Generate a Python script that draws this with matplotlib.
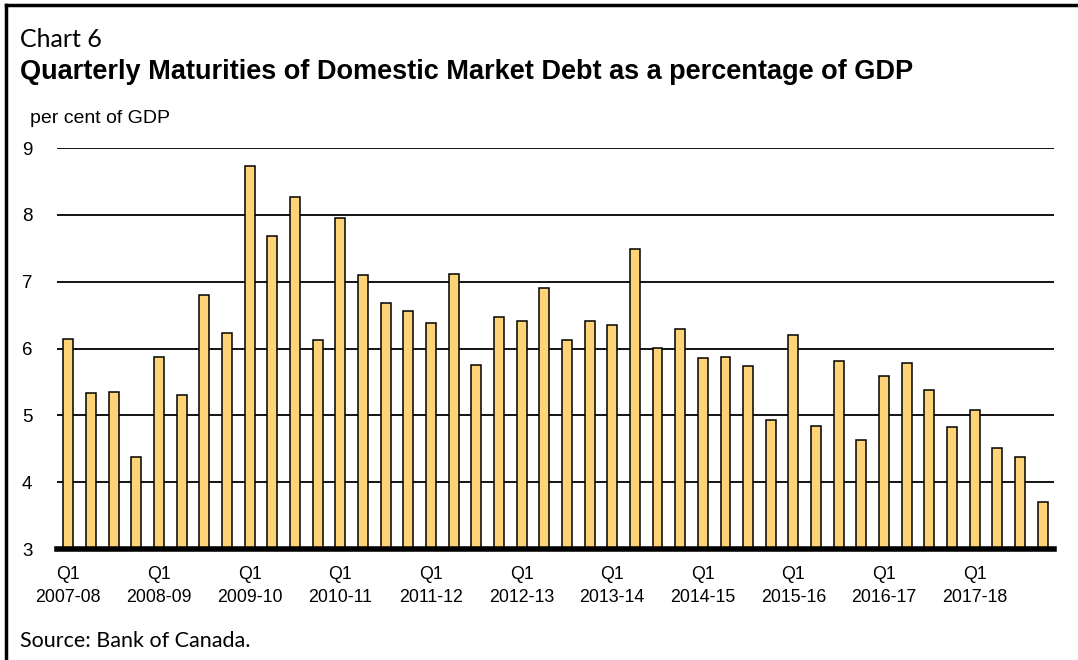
import matplotlib.pyplot as plt

# quarterly maturities, per cent of GDP, 2007-08 Q1 to 2017-18 Q4
fiscal_years = ['2007-08', '2008-09', '2009-10', '2010-11', '2011-12', '2012-13',
                '2013-14', '2014-15', '2015-16', '2016-17', '2017-18']
maturities = [6.15, 5.33, 5.35, 4.38, 5.88, 5.30, 6.81, 6.23,
              8.73, 7.69, 8.27, 6.13, 7.95, 7.10, 6.69, 6.57,
              6.38, 7.12, 5.76, 6.47, 6.42, 6.91, 6.13, 6.42,
              6.35, 7.49, 6.01, 6.30, 5.86, 5.88, 5.74, 4.93,
              6.20, 4.84, 5.82, 4.64, 5.59, 5.79, 5.38, 4.82,
              5.08, 4.52, 4.38, 3.70]

bar_color = '#FFD479'
light_font = ['Lato', 'DejaVu Sans']
plain_font = ['Liberation Sans', 'DejaVu Sans']

fig = plt.figure(figsize=(10.78, 6.6), dpi=100)
ax = fig.add_axes([0.0533, 0.168, 0.9245, 0.6075])

x = list(range(len(maturities)))
ax.bar(x, maturities, width=0.44, bottom=0, color=bar_color,
       edgecolor='black', linewidth=1.1, zorder=3)

ax.set_ylim(3, 9)
ax.set_xlim(-0.48, len(maturities) - 0.5)
ax.set_yticks(range(3, 10))
ax.set_yticklabels([str(v) for v in range(3, 10)], family=plain_font, fontsize=13.5)
ax.yaxis.grid(True, color='black', linewidth=1.3, zorder=1)
ax.tick_params(axis='y', length=0, pad=18)
for s in ['top', 'right', 'left']:
    ax.spines[s].set_visible(False)
ax.spines['bottom'].set_linewidth(4)
ax.spines['bottom'].set_zorder(4)

# Q1 labels at the start of each fiscal year
ax.set_xticks(x[::4])
ax.set_xticklabels(['Q1\n' + fy for fy in fiscal_years], family=plain_font,
                   fontsize=12.8, linespacing=1.45)
ax.tick_params(axis='x', length=0, pad=12)

fig.text(0.0186, 0.94, 'Chart 6', family=light_font, fontsize=18,
         va='center', ha='left')
fig.text(0.0186, 0.891, 'Quarterly Maturities of Domestic Market Debt as a percentage of GDP',
         family=plain_font, fontweight='bold', fontsize=19.5, va='center', ha='left')
fig.text(0.028, 0.821, 'per cent of GDP', family=plain_font, fontsize=14,
         va='center', ha='left')
fig.text(0.0186, 0.029, 'Source: Bank of Canada.', family=light_font,
         fontsize=15.5, va='center', ha='left')

# frame on the top and left edges
fig.add_artist(plt.Line2D([0.0055, 0.0055], [0, 0.993], color='black',
                          linewidth=2.5, transform=fig.transFigure))
fig.add_artist(plt.Line2D([0.0055, 1], [0.993, 0.993], color='black',
                          linewidth=2.5, transform=fig.transFigure))

fig.savefig('out.png', dpi=100)
